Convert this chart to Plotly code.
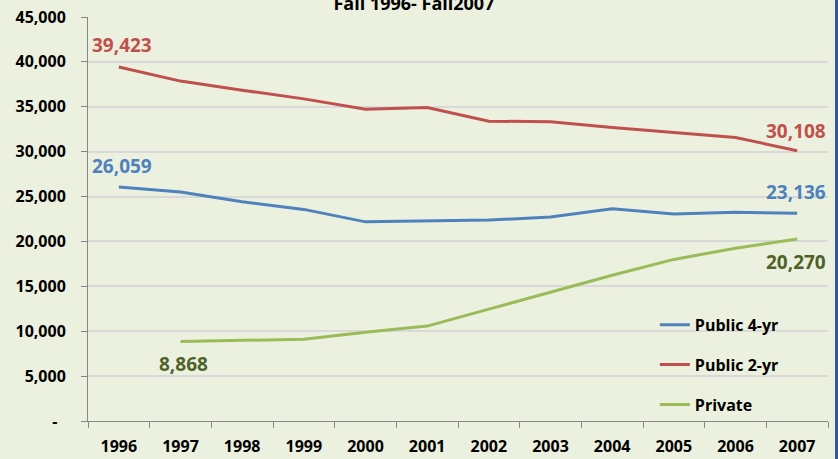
import plotly.graph_objects as go

years = ["1996", "1997", "1998", "1999", "2000", "2001", "2002", "2003", "2004", "2005", "2006", "2007"]
public_4yr = [26059, 25500, 24420, 23570, 22180, 22270, 22380, 22710, 23650, 23050, 23260, 23136]
public_2yr = [39423, 37860, 36850, 35880, 34730, 34920, 33400, 33320, 32680, 32090, 31580, 30108]
private = [None, 8868, 9000, 9100, 9880, 10570, 12460, 14330, 16230, 18000, 19250, 20270]

y_tickvals = [0, 5000, 10000, 15000, 20000, 25000, 30000, 35000, 40000, 45000]
y_ticktext = ["-\u00a0\u00a0"] + [f"{v:,}" for v in y_tickvals[1:]]

title_text = "Fall 1996- Fall2007"

BG = "#EBF1DE"
BLUE = "#4F81BD"
RED = "#C0504D"
GREEN = "#9BBB59"
DKGREEN = "#4F6228"
FONT = "Open Sans"

fig = go.Figure()
series = [
    ("Public 4-yr", public_4yr, BLUE),
    ("Public 2-yr", public_2yr, RED),
    ("Private", private, GREEN),
]
for name, vals, col in series:
    fig.add_trace(go.Scatter(
        x=years, y=vals, name=name, mode="lines",
        line=dict(color=col, width=3), legendgroup=name,
        connectgaps=False, hoverinfo="skip",
    ))

# data labels: (values, index, colour, xshift, yshift)
labels = [
    (public_2yr, 0, RED, 3, 22),
    (public_4yr, 0, BLUE, 3, 21),
    (public_2yr, 11, RED, -1, 20),
    (public_4yr, 11, BLUE, -1, 21),
    (private, 11, DKGREEN, -1, -23),
    (private, 1, DKGREEN, 3, -23),
]
annotations = []
for vals, i, col, xs, ys in labels:
    annotations.append(dict(
        x=i, y=vals[i], xref="x", yref="y",
        text="<b>" + f"{vals[i]:,}" + "</b>", showarrow=False,
        xanchor="center", yanchor="middle", xshift=xs, yshift=ys,
        font=dict(family=FONT, size=19, color=col),
    ))

fig.update_layout(
    width=838, height=459,
    margin=dict(l=88, r=10, t=17, b=38, pad=0, autoexpand=False),
    paper_bgcolor=BG, plot_bgcolor=BG,
    font=dict(family=FONT, size=16, color="#000000", weight="bold"),
    title=dict(text=title_text, x=0.494, xref="container", xanchor="center",
               y=0.991, yref="container", yanchor="middle", automargin=False,
               font=dict(family=FONT, size=18, color="#000000", weight="bold")),
    showlegend=True,
    annotations=annotations,
    legend=dict(x=0.766, xanchor="left", y=0.28, yanchor="top",
                bgcolor="rgba(0,0,0,0)", tracegroupgap=16, traceorder="grouped",
                font=dict(family=FONT, size=16, color="#000000", weight="bold")),
    xaxis=dict(
        type="category", range=[-0.5, 11.5], tickson="boundaries",
        ticks="outside", ticklen=6, tickcolor="#868686", tickwidth=1,
        showline=True, linecolor="#868686", linewidth=1,
        showgrid=False, ticklabelstandoff=11, automargin=False,
        tickfont=dict(family=FONT, size=16, color="#000000", weight="bold"),
    ),
    yaxis=dict(
        range=[0, 45000], tickvals=y_tickvals, ticktext=y_ticktext,
        ticks="outside", ticklen=6, tickcolor="#868686", tickwidth=1,
        showline=True, linecolor="#868686", linewidth=1,
        showgrid=True, gridcolor="#D9D9D9", gridwidth=1.5,
        zeroline=False, ticklabelstandoff=12, automargin=False,
        tickfont=dict(family=FONT, size=16, color="#000000", weight="bold"),
    ),
)

# dark blue slide edge on the right
fig.add_shape(type="rect", xref="paper", yref="paper",
              x0=(835 - 88) / 740, x1=1.02, y0=-0.2, y1=1.1,
              fillcolor="#2E5C9A", line=dict(width=0), layer="above")

fig.write_html("out.html", config={"displayModeBar": False},
               post_script="document.body.style.margin='0';")
